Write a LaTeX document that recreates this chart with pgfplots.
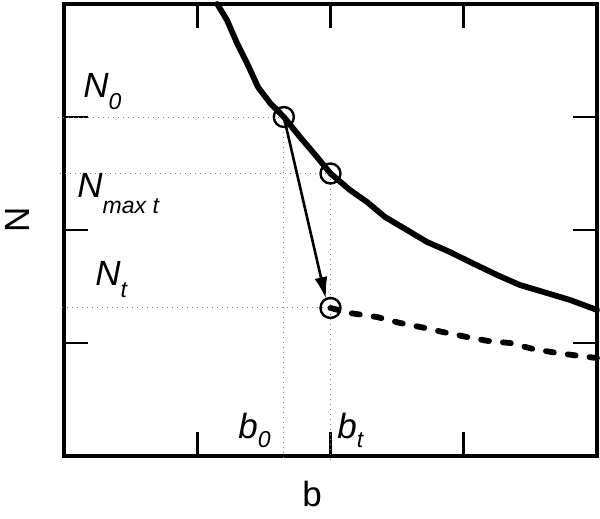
\documentclass[border=0pt]{standalone}
\usepackage{fontspec}
\setmainfont{Liberation Sans}
\usepackage{pgfplots}
\pgfplotsset{compat=1.18}
\usetikzlibrary{arrows.meta}
\newcommand{\lab}[3]{{\fontsize{17.5}{20}\selectfont\itshape #1\raisebox{-#3}{\fontsize{11.5}{13}\selectfont #2}}}
\begin{document}
\begin{tikzpicture}
\useasboundingbox (0,0) rectangle (300pt,259.5pt);
\begin{axis}[
  at={(32pt,31.5pt)}, anchor=south west,
  scale only axis, width=266.5pt, height=226pt,
  xmin=0, xmax=4, ymin=0, ymax=4,
  xtick={1,2,3}, ytick={1,2,3},
  xticklabels={}, yticklabels={},
  xtick pos=both, ytick pos=both,
  tick align=inside, major tick length=12pt,
  tick style={line width=1.3pt, black},
  axis line style={line width=1.7pt},
  clip=false,
]
% dotted guide lines
\addplot[gray, dotted, line width=0.5pt] coordinates {(-0.045,3.0) (1.65,3.0)};
\addplot[gray, dotted, line width=0.5pt] coordinates {(-0.03,2.5) (2.0,2.5)};
\addplot[gray, dotted, line width=0.5pt] coordinates {(-0.015,1.31) (2.0,1.31)};
\addplot[gray, dotted, line width=0.5pt] coordinates {(1.65,3.0) (1.65,-0.053)};
\addplot[gray, dotted, line width=0.5pt] coordinates {(2.0,2.5) (2.0,-0.053)};
% solid curve
\addplot[black, line width=2.9pt, line join=round, line cap=round] coordinates {
(1.15,4.0) (1.223,3.858) (1.298,3.655) (1.373,3.478) (1.456,3.265) (1.546,3.124)
(1.65,3.0) (1.771,2.823) (1.899,2.646) (2.0,2.5) (2.146,2.354) (2.274,2.248)
(2.409,2.115) (2.574,2.0) (2.724,1.894) (2.897,1.805) (3.047,1.717) (3.250,1.602)
(3.422,1.513) (3.625,1.442) (3.797,1.381) (4.0,1.292)};
% dashed curve
\addplot[black, line width=2.9pt, line cap=round, dash pattern=on 4pt off 7pt] coordinates {
(2.0,1.31) (2.146,1.265) (2.349,1.230) (2.522,1.177) (2.672,1.142) (2.844,1.097)
(3.024,1.053) (3.182,1.018) (3.347,1.0) (3.520,0.947) (3.700,0.912) (3.872,0.885) (4.0,0.867)};
% arrow
\addplot[black, line width=1.3pt, -{Latex[length=11pt,width=6.5pt]}] coordinates {(1.65,3.0) (1.966,1.389)};
% circles
\addplot[only marks, mark=o, mark size=5pt, mark options={line width=1.2pt, black}] coordinates {(1.65,3.0) (2.0,2.5) (2.0,1.31)};
% labels
\node[anchor=base west, inner sep=0] at (axis cs:0.143,3.177) {\lab{N}{0}{6pt}};
\node[anchor=base west, inner sep=0] at (axis cs:0.098,2.292) {\lab{N}{max t}{8pt}};
\node[anchor=base west, inner sep=0] at (axis cs:0.233,1.513) {\lab{N}{t}{6pt}};
\node[anchor=base west, inner sep=0] at (axis cs:1.306,0.159) {\lab{b}{0}{4.5pt}};
\node[anchor=base west, inner sep=0] at (axis cs:2.049,0.159) {\lab{b}{t}{4.5pt}};
\node[anchor=base west, inner sep=0] at (axis cs:1.786,-0.451) {\fontsize{17.5}{20}\selectfont b};
\node[anchor=center, inner sep=0, rotate=90] at (axis cs:-0.349,2.088) {\fontsize{17.5}{20}\selectfont N};
\end{axis}
\end{tikzpicture}
\end{document}
